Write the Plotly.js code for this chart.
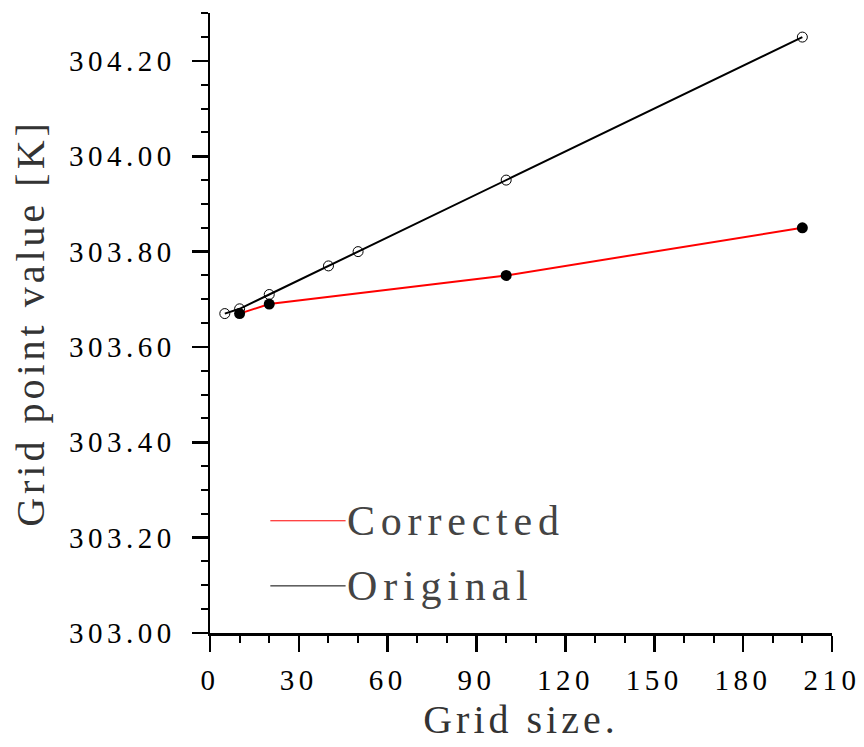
<!DOCTYPE html>
<html>
<head>
<meta charset="utf-8">
<script src="https://cdn.plot.ly/plotly-3.0.1.min.js"></script>
<style>
  html, body { margin: 0; padding: 0; background: #fff; }
  #chart { width: 864px; height: 747px; }
  .xtick text, .ytick text { letter-spacing: 4.5px; }
  .xtitle, .ytitle { letter-spacing: 4px; }
  .annotation-text { letter-spacing: 5.8px; }
</style>
</head>
<body>
<div id="chart"></div>
<script>
// Grid-size sensitivity of the grid point value
const originalName = "Original";
const originalGrid = [5, 10, 20, 40, 50, 100, 200];
const originalValue = [303.67, 303.68, 303.71, 303.77, 303.80, 303.95, 304.25];

const correctedName = "Corrected";
const correctedGrid = [10, 20, 100, 200];
const correctedValue = [303.67, 303.69, 303.75, 303.85];

const xTitle = "Grid size.";
const yTitle = "Grid point value [K]";

const serif = "Liberation Serif, DejaVu Serif, serif";

const traces = [
  {
    name: originalName,
    x: originalGrid,
    y: originalValue,
    type: "scatter",
    mode: "lines+markers",
    line: { color: "#000000", width: 2 },
    marker: { symbol: "circle-open", size: 10, color: "#000000", line: { width: 1, color: "#000000" } },
    showlegend: false
  },
  {
    name: correctedName,
    x: correctedGrid,
    y: correctedValue,
    type: "scatter",
    mode: "lines+markers",
    line: { color: "#ff0000", width: 2 },
    marker: { symbol: "circle", size: 11, color: "#000000" },
    showlegend: false
  }
];

// Hand-placed key inside the plot area: a short line sample followed by the series name
const keyItems = [
  { name: correctedName, color: "#ff0000", y: 0.181 },
  { name: originalName, color: "#000000", y: 0.076 }
];
const keyLineX0 = 0.097, keyLineX1 = 0.218;

const shapes = keyItems.map(k => ({
  type: "line", xref: "paper", yref: "paper",
  x0: keyLineX0, x1: keyLineX1, y0: k.y, y1: k.y,
  line: { color: k.color, width: 1 }
}));
const annotations = keyItems.map(k => ({
  xref: "paper", yref: "paper", x: keyLineX1, y: k.y,
  xanchor: "left", yanchor: "middle", showarrow: false,
  text: k.name, borderpad: 0,
  font: { family: serif, size: 42, color: "#444444" }
}));

const axisCommon = {
  showgrid: false, zeroline: false, showline: true,
  linecolor: "#000000", linewidth: 2.5,
  ticks: "outside", ticklen: 16, tickwidth: 2.5, tickcolor: "#000000",
  tickfont: { family: serif, size: 29, color: "#000000" },
  automargin: false
};

const layout = {
  width: 864, height: 747,
  paper_bgcolor: "#ffffff", plot_bgcolor: "#ffffff",
  margin: { l: 210, r: 32, t: 13, b: 114 },
  showlegend: false,
  xaxis: Object.assign({}, axisCommon, {
    range: [0, 210.01], tick0: 0, dtick: 30,
    ticklabelstandoff: 4,
    minor: { dtick: 10, ticks: "outside", ticklen: 7, tickwidth: 2, tickcolor: "#000000" },
    title: { text: xTitle, font: { family: serif, size: 40, color: "#333333" }, standoff: 10 }
  }),
  yaxis: Object.assign({}, axisCommon, {
    range: [303.0, 304.3005], tick0: 303, dtick: 0.2, tickformat: ".2f",
    ticklabelstandoff: 10,
    minor: { dtick: 0.05, ticks: "outside", ticklen: 7, tickwidth: 2, tickcolor: "#000000" },
    title: { text: yTitle, font: { family: serif, size: 40, color: "#333333" }, standoff: 12 }
  }),
  shapes: shapes,
  annotations: annotations
};

Plotly.newPlot("chart", traces, layout, { displayModeBar: false, staticPlot: true });
</script>
</body>
</html>
